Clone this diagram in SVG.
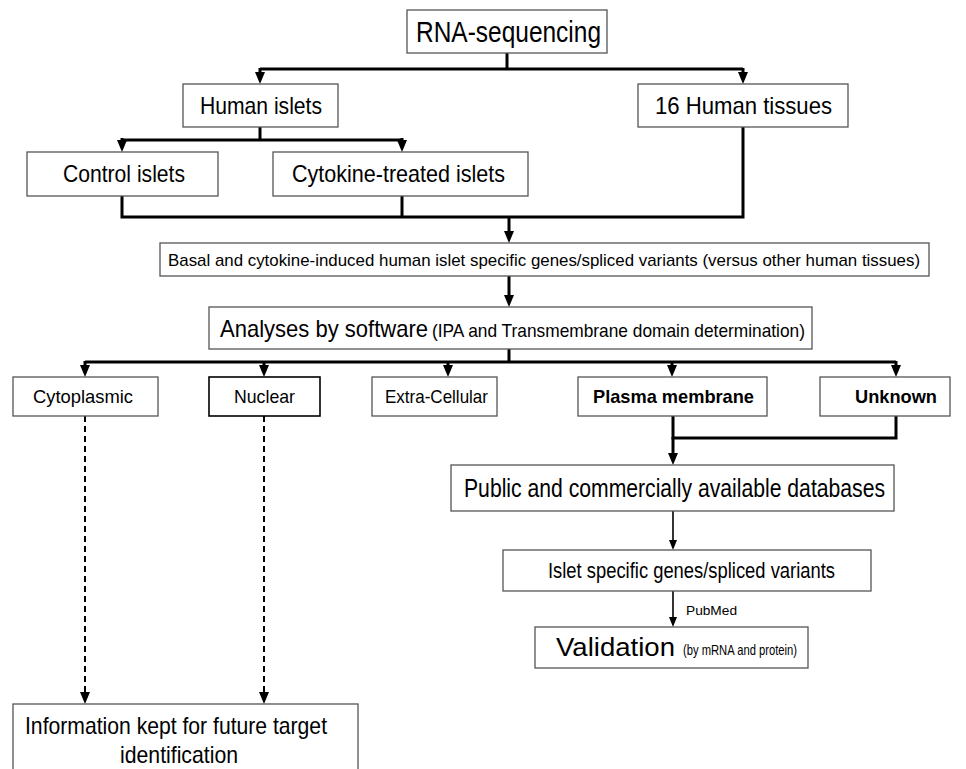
<svg xmlns="http://www.w3.org/2000/svg" width="966" height="769" viewBox="0 0 966 769">
<style>
.box{fill:#fff;stroke:#555;stroke-width:1.3}
.t{font-family:"Liberation Sans",Arial,sans-serif;fill:#000}
.c{fill:none;stroke:#000;stroke-width:3}
.thin{fill:none;stroke:#000;stroke-width:1.6}
.d{fill:none;stroke:#000;stroke-width:2;stroke-dasharray:6 4}
</style>
<defs>
<marker id="a" viewBox="0 0 12 10" refX="0" refY="5" markerWidth="12" markerHeight="10" markerUnits="userSpaceOnUse" orient="auto"><path d="M0,0 L12,5 L0,10 z" fill="#000"/></marker>
<marker id="s" viewBox="0 0 10 8" refX="0" refY="4" markerWidth="10" markerHeight="8" markerUnits="userSpaceOnUse" orient="auto"><path d="M0,0 L10,4 L0,8 z" fill="#000"/></marker>
</defs>
<rect width="966" height="769" fill="#fff"/>
<g id="connectors">
<path class="c" d="M507,53 V69"/>
<path class="c" d="M260,69 H743"/>
<path class="c" d="M260,68 V72" marker-end="url(#a)"/>
<path class="c" d="M743,68 V72" marker-end="url(#a)"/>
<path class="c" d="M260,127 V140"/>
<path class="c" d="M122,140 H402"/>
<path class="c" d="M122,138 V140" marker-end="url(#a)"/>
<path class="c" d="M402,138 V140" marker-end="url(#a)"/>
<path class="c" d="M122,196 V217 H743 V127"/>
<path class="c" d="M402,196 V217"/>
<path class="c" d="M509,217 V231" marker-end="url(#a)"/>
<path class="c" d="M509,276 V295" marker-end="url(#a)"/>
<path class="c" d="M509,349 V362"/>
<path class="c" d="M85,362 H896"/>
<path class="c" d="M85,361 V365" marker-end="url(#a)"/>
<path class="c" d="M264,361 V365" marker-end="url(#a)"/>
<path class="c" d="M448,361 V365" marker-end="url(#a)"/>
<path class="c" d="M672,361 V365" marker-end="url(#a)"/>
<path class="c" d="M896,361 V365" marker-end="url(#a)"/>
<path class="c" d="M673,416 V438 H896 V416"/>
<path class="c" d="M673,437 V453" marker-end="url(#a)"/>
<path class="thin" d="M673,511 V540" marker-end="url(#s)"/>
<path class="thin" d="M673,591 V617" marker-end="url(#s)"/>
<path class="d" d="M85,416 V692" marker-end="url(#a)"/>
<path class="d" d="M264,416 V692" marker-end="url(#a)"/>
<text class="t" x="686" y="615" font-size="13" textLength="51" lengthAdjust="spacingAndGlyphs">PubMed</text>
</g>
<g id="rna"><rect class="box" x="407" y="10" width="200" height="43"/><text class="t" x="416" y="42" font-size="29" textLength="185" lengthAdjust="spacingAndGlyphs">RNA-sequencing</text></g>
<g id="human-islets"><rect class="box" x="183" y="84" width="155" height="43"/><text class="t" x="200" y="114" font-size="24" textLength="122" lengthAdjust="spacingAndGlyphs">Human islets</text></g>
<g id="human-tissues"><rect class="box" x="638" y="84" width="210" height="43"/><text class="t" x="655" y="114" font-size="24" textLength="177" lengthAdjust="spacingAndGlyphs">16 Human tissues</text></g>
<g id="control"><rect class="box" x="27" y="152" width="191" height="44"/><text class="t" x="63" y="182" font-size="24" textLength="122" lengthAdjust="spacingAndGlyphs">Control islets</text></g>
<g id="cytokine"><rect class="box" x="273" y="152" width="255" height="44"/><text class="t" x="292" y="182" font-size="24" textLength="213" lengthAdjust="spacingAndGlyphs">Cytokine-treated islets</text></g>
<g id="basal"><rect class="box" x="160" y="243" width="769" height="33"/><text class="t" x="168" y="265.5" font-size="17" textLength="752" lengthAdjust="spacingAndGlyphs">Basal and cytokine-induced human islet specific genes/spliced variants (versus other human tissues)</text></g>
<g id="analyses"><rect class="box" x="209" y="307" width="603" height="42"/><text class="t" x="220" y="337" font-size="24" textLength="208" lengthAdjust="spacingAndGlyphs">Analyses by software</text><text class="t" x="432" y="337" font-size="19" textLength="373" lengthAdjust="spacingAndGlyphs">(IPA and Transmembrane domain determination)</text></g>
<g id="cytoplasmic"><rect class="box" x="13" y="377" width="145" height="39"/><text class="t" x="33" y="403" font-size="19" textLength="100" lengthAdjust="spacingAndGlyphs">Cytoplasmic</text></g>
<g id="nuclear"><rect class="box" x="209" y="377" width="111" height="39" style="stroke:#000;stroke-width:1.6"/><text class="t" x="234" y="403" font-size="19" textLength="61" lengthAdjust="spacingAndGlyphs">Nuclear</text></g>
<g id="extracellular"><rect class="box" x="372" y="377" width="125" height="39"/><text class="t" x="385" y="403" font-size="19" textLength="103" lengthAdjust="spacingAndGlyphs">Extra-Cellular</text></g>
<g id="plasma"><rect class="box" x="578" y="377" width="189" height="39"/><text class="t" x="593" y="403" font-size="19" font-weight="bold" textLength="161" lengthAdjust="spacingAndGlyphs">Plasma membrane</text></g>
<g id="unknown"><rect class="box" x="820" y="377" width="130" height="39"/><text class="t" x="855" y="403" font-size="19" font-weight="bold" textLength="82" lengthAdjust="spacingAndGlyphs">Unknown</text></g>
<g id="public"><rect class="box" x="451" y="465" width="443" height="46"/><text class="t" x="464" y="497" font-size="25" textLength="421" lengthAdjust="spacingAndGlyphs">Public and commercially available databases</text></g>
<g id="islet-specific"><rect class="box" x="503" y="550" width="368" height="41"/><text class="t" x="548" y="578" font-size="22" textLength="287" lengthAdjust="spacingAndGlyphs">Islet specific genes/spliced variants</text></g>
<g id="validation"><rect class="box" x="535" y="627" width="273" height="41"/><text class="t" x="556" y="656" font-size="26" textLength="119" lengthAdjust="spacingAndGlyphs">Validation</text><text class="t" x="683" y="655" font-size="14.5" textLength="114" lengthAdjust="spacingAndGlyphs">(by mRNA and protein)</text></g>
<g id="information"><rect class="box" x="13" y="704" width="345" height="75"/><text class="t" x="25" y="734" font-size="24" textLength="302" lengthAdjust="spacingAndGlyphs">Information kept for future target</text><text class="t" x="120" y="763" font-size="24" textLength="118" lengthAdjust="spacingAndGlyphs">identification</text></g>
</svg>
